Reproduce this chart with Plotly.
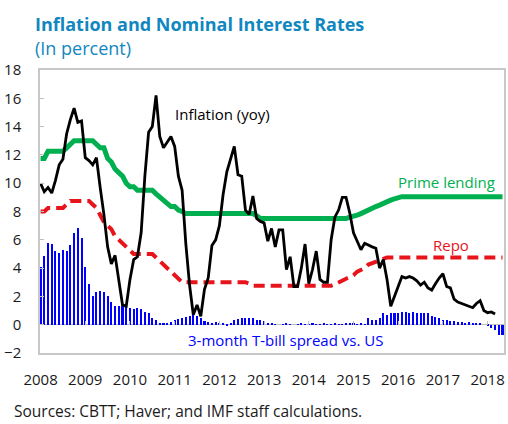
import plotly.graph_objects as go

years = ["2008", "2009", "2010", "2011", "2012", "2013", "2014", "2015", "2016", "2017", "2018"]

# Monthly, starting Jan 2008
inflation = [10.0, 9.4, 9.7, 9.3, 10.2, 11.3, 11.7, 13.5, 14.5, 15.3, 14.3, 14.4,
             11.8, 11.6, 11.3, 11.8, 9.7, 7.8, 5.5, 4.3, 4.9, 3.2, 1.4, 1.3,
             3.2, 4.6, 4.8, 6.5, 10.5, 13.6, 14.0, 16.2, 13.3, 12.5, 12.9, 13.3,
             12.6, 10.5, 9.5, 5.7, 2.8, 0.7, 1.4, 0.6, 2.5, 3.3, 5.6, 6.0,
             7.0, 9.2, 10.8, 11.7, 12.6, 10.6, 10.5, 8.1, 7.8, 9.1, 7.5, 7.3,
             7.2, 5.9, 6.8, 5.5, 6.7, 6.7, 3.9, 4.8, 2.7, 2.7, 4.0, 5.7,
             2.9, 3.9, 5.2, 3.2, 3.0, 3.0, 6.0, 7.6, 8.1, 9.0, 9.0, 7.9,
             6.5, 5.9, 5.3, 5.75, 5.6, 5.5, 5.4, 4.0, 4.6, 3.2, 1.3, 2.0,
             2.8, 3.4, 3.3, 3.4, 3.3, 3.1, 2.8, 3.0, 2.6, 2.45, 2.9, 3.3,
             3.6, 2.7, 2.6, 1.8, 1.6, 1.5, 1.4, 1.3, 1.2, 1.5, 1.7, 1.0,
             0.85, 0.9, 0.75]

prime = [11.75, 11.75, 12.25, 12.25, 12.25, 12.25, 12.25, 12.5, 12.75, 13.0, 13.0, 13.0,
         13.0, 13.0, 13.0, 12.75, 12.5, 12.5, 11.75, 11.5, 11.0, 10.75, 10.5, 10.0,
         9.75, 9.75, 9.5, 9.5, 9.5, 9.5, 9.5, 9.25, 9.0, 8.75, 8.5, 8.35,
         8.35, 8.1, 8.0, 7.85, 7.85, 7.85, 7.85, 7.85, 7.85, 7.85, 7.85, 7.85,
         7.85, 7.85, 7.85, 7.85, 7.85, 7.85, 7.85, 7.85, 7.85, 7.85, 7.7, 7.5,
         7.5, 7.5, 7.5, 7.5, 7.5, 7.5, 7.5, 7.5, 7.5, 7.5, 7.5, 7.5,
         7.5, 7.5, 7.5, 7.5, 7.5, 7.5, 7.5, 7.5, 7.5, 7.5, 7.5, 7.6,
         7.65, 7.75, 7.85, 8.0, 8.1, 8.25, 8.35, 8.45, 8.6, 8.75, 8.8, 8.9,
         9.0, 9.05, 9.05, 9.05, 9.05, 9.05, 9.05, 9.05, 9.05, 9.05, 9.05, 9.05,
         9.05, 9.05, 9.05, 9.05, 9.05, 9.05, 9.05, 9.05, 9.05, 9.05, 9.05, 9.05,
         9.05, 9.05, 9.05, 9.05, 9.05]

repo = [8.0, 8.0, 8.25, 8.25, 8.25, 8.25, 8.25, 8.5, 8.75, 8.75, 8.75, 8.75,
        8.75, 8.75, 8.5, 8.25, 7.75, 7.25, 7.0, 6.75, 6.25, 6.0, 5.75, 5.5,
        5.25, 5.0, 5.0, 5.0, 5.0, 5.0, 5.0, 4.75, 4.5, 4.25, 4.0, 3.75,
        3.5, 3.25, 3.0, 3.0, 3.0, 3.0, 3.0, 3.0, 3.0, 3.0, 3.0, 3.0,
        3.0, 3.0, 3.0, 3.0, 3.0, 3.0, 3.0, 3.0, 2.9, 2.75, 2.75, 2.75,
        2.75, 2.75, 2.75, 2.75, 2.75, 2.75, 2.75, 2.75, 2.75, 2.75, 2.75, 2.75,
        2.75, 2.75, 2.75, 2.75, 2.75, 2.75, 2.75, 2.85, 3.0, 3.1, 3.25, 3.35,
        3.5, 3.75, 3.85, 4.0, 4.25, 4.35, 4.5, 4.6, 4.65, 4.75, 4.75, 4.75,
        4.75, 4.75, 4.75, 4.75, 4.75, 4.75, 4.75, 4.75, 4.75, 4.75, 4.75, 4.75,
        4.75, 4.75, 4.75, 4.75, 4.75, 4.75, 4.75, 4.75, 4.75, 4.75, 4.75, 4.75,
        4.75, 4.75, 4.75, 4.75, 4.75]

spread = [4.05, 4.85, 5.8, 5.7, 5.2, 5.1, 5.3, 5.2, 5.6, 6.45, 6.8, 6.1,
          4.1, 2.9, 2.05, 2.3, 2.4, 2.3, 2.05, 1.6, 1.3, 1.35, 1.3, 1.3,
          1.2, 1.1, 1.15, 1.1, 0.9, 0.8, 0.5, 0.33, 0.1, 0.15, 0.15, 0.2,
          0.3, 0.4, 0.45, 0.55, 0.65, 0.7, 0.6, 0.45, 0.25, 0.2, 0.15, 0.2,
          0.1, 0.05, -0.05, 0.05, 0.3, 0.4, 0.45, 0.5, 0.45, 0.5, 0.35, 0.3,
          0.25, 0.05, 0.05, 0.03, 0.0, 0.03, 0.05, 0.03, 0.0, 0.03, 0.05, 0.03,
          0.02, 0.05, 0.03, 0.02, 0.1, 0.03, 0.02, 0.05, 0.03, 0.02, 0.05, 0.1,
          0.05, 0.02, 0.1, 0.03, 0.45, 0.35, 0.35, 0.45, 0.8, 0.7, 0.85, 0.8,
          0.85, 0.9, 0.9, 0.85, 0.9, 0.85, 0.85, 0.8, 0.85, 0.6, 0.55, 0.45,
          0.35, 0.3, 0.25, 0.25, 0.2, 0.2, 0.15, 0.2, 0.1, 0.15, 0.05, 0.0,
          -0.1, -0.25, -0.4, -0.7, -0.75]

FONT = "Open Sans"
BLUE = "#0000ff"
GREEN = "#00b050"
RED = "#e8141b"
TITLE_C = "#1187c0"

fig = go.Figure()
fig.add_trace(go.Bar(x=list(range(len(spread))), y=spread, width=0.55,
                     marker=dict(color=BLUE, line=dict(width=0)), showlegend=False))
fig.add_trace(go.Scatter(x=list(range(len(prime))), y=prime, mode="lines",
                         line=dict(color=GREEN, width=5), showlegend=False))
fig.add_trace(go.Scatter(x=list(range(len(repo))), y=repo, mode="lines",
                         line=dict(color=RED, width=4, dash="11px,6px"), showlegend=False))
fig.add_trace(go.Scatter(x=list(range(len(inflation))), y=inflation, mode="lines",
                         line=dict(color="black", width=2.8), showlegend=False))
# empty trace so the tick axis on the zero line is drawn
fig.add_trace(go.Scatter(x=[], y=[], xaxis="x2", yaxis="y", showlegend=False, hoverinfo="skip"))

tickvals = [12 * i for i in range(len(years))]
xr = [-0.15, 124.4]

fig.update_layout(
    width=508, height=424,
    margin=dict(l=40, r=4, t=70, b=71, autoexpand=False),
    paper_bgcolor="white", plot_bgcolor="white",
    font=dict(family=FONT, size=15, color="#1a1a1a"),
    bargap=0,
    hovermode=False,
    xaxis=dict(range=xr, tickvals=tickvals, ticktext=years, ticks="", automargin=False,
               showgrid=False, zeroline=False, showline=True, mirror=True,
               linecolor="#c8c8c8", linewidth=1.5, ticklabelstandoff=12,
               tickfont=dict(size=15, color="#1a1a1a")),
    xaxis2=dict(range=xr, overlaying="x", anchor="free", position=0.1, automargin=False,
                tickvals=tickvals, ticks="inside", ticklen=4, tickcolor="#bfbfbf",
                showticklabels=False, showgrid=False, zeroline=False, showline=False),
    yaxis=dict(range=[-2, 18], dtick=2, ticks="inside", ticklen=4, tickcolor="#bfbfbf",
               automargin=False,
               showgrid=False, zeroline=True, zerolinecolor="#bfbfbf", zerolinewidth=1,
               showline=True, mirror=True, linecolor="#c8c8c8", linewidth=1.5,
               ticklabelstandoff=14, tickfont=dict(size=15, color="#1a1a1a")),
    annotations=[
        dict(text="<b>Inflation and Nominal Interest Rates</b>", xref="paper", yref="paper",
             x=-0.015, y=1 + (70 - 24) / 283, xanchor="left", yanchor="middle",
             showarrow=False, font=dict(family=FONT, size=18, color=TITLE_C)),
        dict(text="(In percent)", xref="paper", yref="paper",
             x=-0.015, y=1 + (70 - 48) / 283, xanchor="left", yanchor="middle",
             showarrow=False, font=dict(family=FONT, size=18, color=TITLE_C)),
        dict(text="Sources: CBTT; Haver; and IMF staff calculations.", xref="paper", yref="paper",
             x=(12 - 40) / 464, y=-(411 - 353) / 283, xanchor="left", yanchor="middle",
             showarrow=False, font=dict(family=FONT, size=15.5, color="#1a1a1a")),
        dict(text="Inflation (yoy)", x=35.6, y=14.9, xanchor="left", yanchor="middle",
             showarrow=False, font=dict(family=FONT, size=15, color="black")),
        dict(text="Prime lending", x=122.4, y=10.1, xanchor="right", yanchor="middle",
             showarrow=False, font=dict(family=FONT, size=15, color=GREEN)),
        dict(text="Repo", x=110.2, y=5.6, xanchor="center", yanchor="middle",
             showarrow=False, font=dict(family=FONT, size=15, color=RED)),
        dict(text="3-month T-bill spread vs. US", x=39.1, y=-1.1, xanchor="left", yanchor="middle",
             showarrow=False, font=dict(family=FONT, size=15, color=BLUE)),
    ],
)

fig.write_html("out.html", config={"displayModeBar": False},
               post_script="document.body.style.margin='0';")
